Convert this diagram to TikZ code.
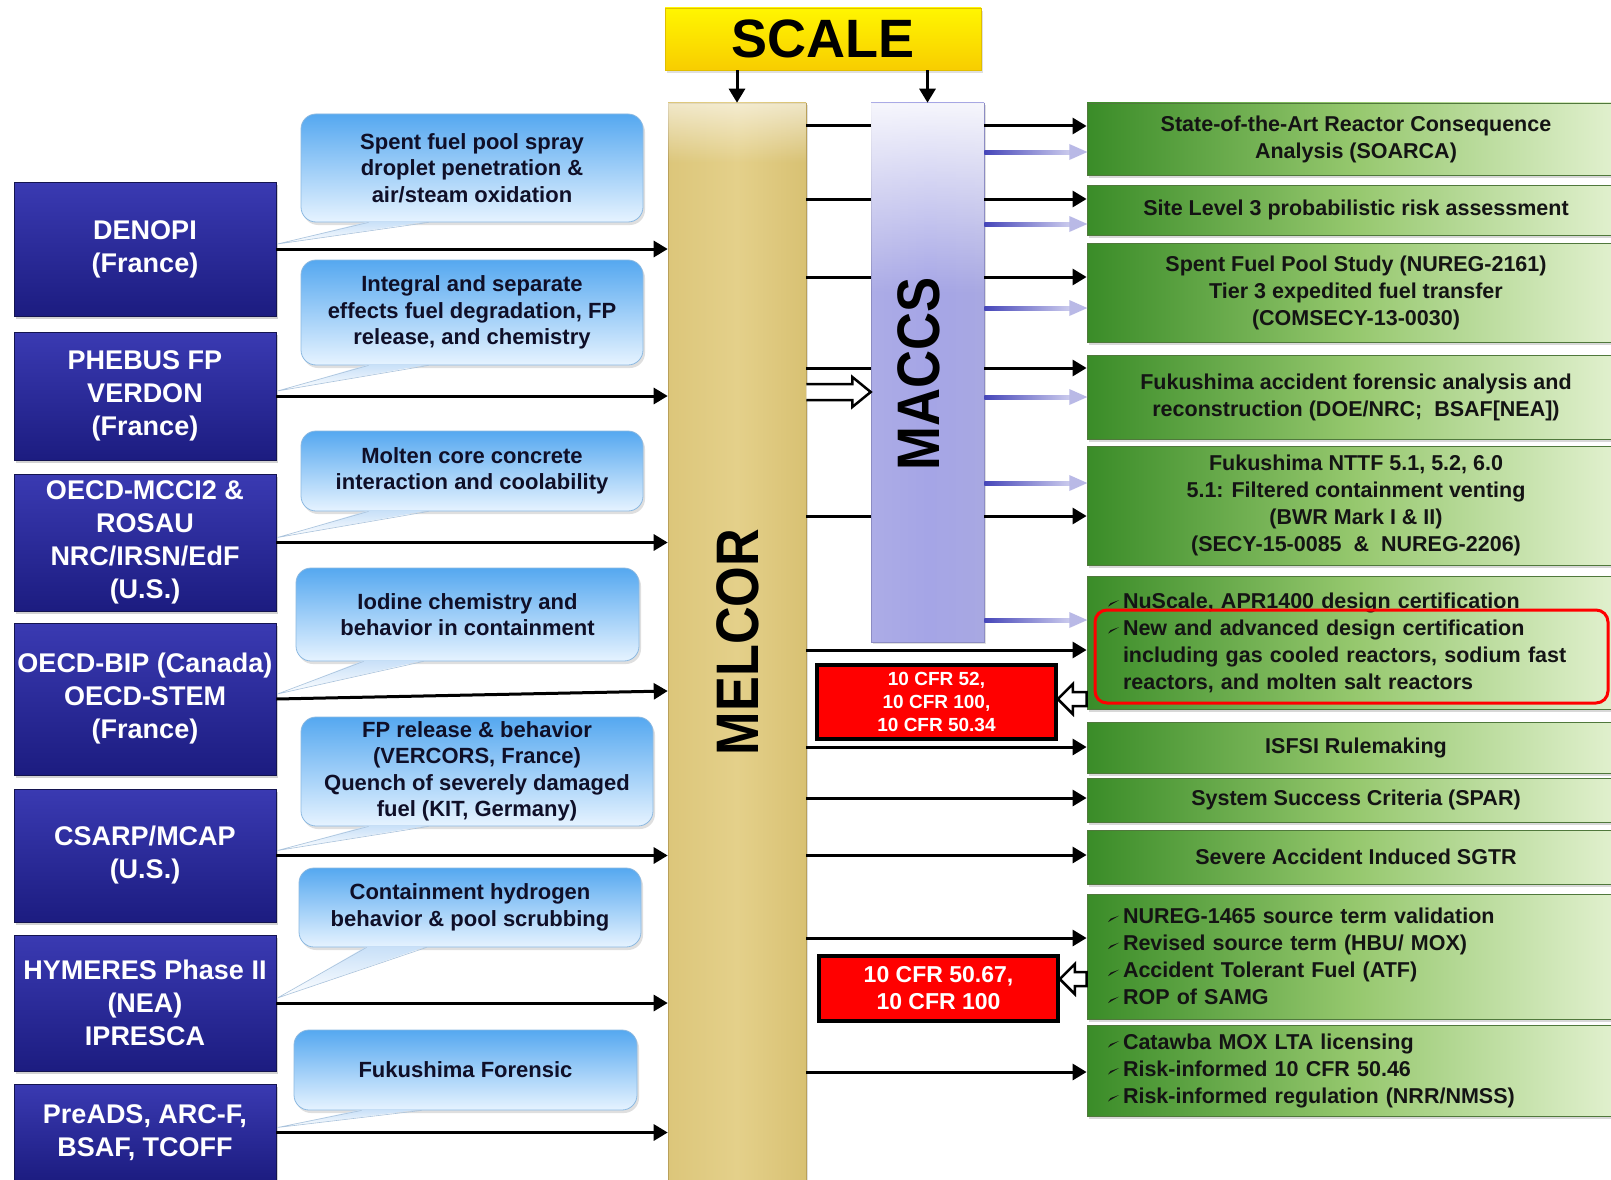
\documentclass[tikz,border=0pt]{standalone}
\usepackage{graphicx}
\usepackage{fontspec}
\setmainfont{Liberation Sans}
\usetikzlibrary{arrows.meta,shadows,calc,fadings}

\definecolor{navyT}{RGB}{58,58,178}
\definecolor{navyB}{RGB}{28,28,128}
\definecolor{navyD}{RGB}{20,20,80}
\definecolor{callT}{RGB}{85,168,240}
\definecolor{callB}{RGB}{230,243,255}
\definecolor{callD}{RGB}{140,185,225}
\definecolor{calltxt}{RGB}{15,15,40}
\definecolor{tailT}{RGB}{200,224,248}
\definecolor{tailD}{RGB}{170,195,220}
\definecolor{melL}{RGB}{220,198,122}
\definecolor{melM}{RGB}{228,208,138}
\definecolor{melR}{RGB}{216,193,115}
\definecolor{melD}{RGB}{185,160,90}
\definecolor{macL}{RGB}{172,172,230}
\definecolor{macM}{RGB}{165,165,230}
\definecolor{macR}{RGB}{168,168,226}
\definecolor{macD}{RGB}{140,140,195}
\definecolor{scT}{RGB}{255,246,0}
\definecolor{scB}{RGB}{248,205,0}
\definecolor{scD}{RGB}{225,190,0}
\definecolor{grL}{RGB}{58,140,40}
\definecolor{grM}{RGB}{150,200,110}
\definecolor{grR}{RGB}{228,242,210}
\definecolor{grD}{RGB}{80,120,60}
\definecolor{grtxt}{RGB}{20,20,20}
\definecolor{fadeA}{RGB}{70,70,185}
\definecolor{fadeB}{RGB}{205,205,238}

\newcommand\gbul{\makebox[15pt][l]{\tikz[x=1pt,y=1pt,baseline=0pt]\fill[grtxt] (0,1.5) -- (11,8) -- (2.5,5) -- cycle;}}

\begin{document}
\begin{tikzpicture}[x=1pt,y=-1pt,
  darkbox/.style={rectangle, top color=navyT, bottom color=navyB, draw=navyD, line width=0.8pt,
    text=white, align=center, minimum width=262pt, inner sep=0pt,
    font=\fontsize{27}{33}\selectfont\bfseries,
    drop shadow={shadow xshift=2pt,shadow yshift=-3pt,opacity=0.35}},
  callout/.style={rectangle, rounded corners=15pt, top color=callT, bottom color=callB, draw=callD,
    line width=0.8pt, text=calltxt, align=center, inner sep=0pt,
    font=\fontsize{22}{26.5}\selectfont\bfseries,
    drop shadow={shadow xshift=2pt,shadow yshift=-3pt,opacity=0.25}},
  greenbox/.style={rectangle, left color=grL, right color=grR, middle color=grM, draw=grD,
    line width=0.8pt, text=grtxt, align=center, minimum width=538pt, inner sep=0pt,
    font=\fontsize{21.5}{27}\selectfont\bfseries,
    drop shadow={shadow xshift=2pt,shadow yshift=-3pt,opacity=0.3}},
  greenlist/.style={greenbox, align=left, text width=496pt, inner xsep=21pt},
  redbox/.style={rectangle, fill=red, draw=black, line width=3.5pt, text=white, align=center,
    inner sep=0pt, minimum width=239pt},
  arr/.style={line width=3pt, -{Triangle[length=14pt,width=16pt]}},
  plainline/.style={line width=3pt},
  hollow/.style={line width=2.5pt, fill=white, draw=black, line join=miter},
  fadearrow/.pic={
    \shade[left color=fadeA,right color=fadeB] (0,-2) rectangle (87,2);
    \fill[fadeB!85!fadeA] (85,-8) -- (103,0) -- (85,8) -- cycle;}
]
\useasboundingbox (0,0) rectangle (1611,1180);
\fill[white] (0,0) rectangle (1611,1180);

% ---------- left dark boxes ----------
\node[darkbox, minimum height=134pt] (d1) at (145,249) {DENOPI\\(France)};
\node[darkbox, minimum height=128pt] (d2) at (145,396) {PHEBUS FP\\VERDON\\(France)};
\node[darkbox, minimum height=137pt] (d3) at (145,542.5) {OECD-MCCI2 \&\\ROSAU\\NRC/IRSN/EdF\\(U.S.)};
\node[darkbox, minimum height=152pt] (d4) at (145,699) {OECD-BIP (Canada)\\OECD-STEM\\(France)};
\node[darkbox, minimum height=133pt] (d5) at (145,855.5) {CSARP/MCAP\\(U.S.)};
\node[darkbox, minimum height=136pt] (d6) at (145,1003) {HYMERES Phase II\\(NEA)\\IPRESCA};
\node[darkbox, minimum height=97pt] (d7) at (145,1132.5) {PreADS, ARC-F,\\BSAF, TCOFF};

% ---------- callouts ----------
\node[callout, minimum width=342pt, minimum height=108pt] (c1) at (472,168) {Spent fuel pool spray\\droplet penetration \&\\air/steam oxidation};
\node[callout, minimum width=342pt, minimum height=105pt] (c2) at (472,312.5) {Integral and separate\\effects fuel degradation, FP\\release, and chemistry};
\node[callout, minimum width=342pt, minimum height=80pt] (c3) at (472,471) {Molten core concrete\\interaction and coolability};
\node[callout, minimum width=343pt, minimum height=93pt] (c4) at (467.5,614.5) {Iodine chemistry and\\behavior in containment};
\node[callout, minimum width=352pt, minimum height=109pt] (c5) at (477,771.5) {FP release \& behavior\\(VERCORS, France)\\Quench of severely damaged\\fuel (KIT, Germany)};
\node[callout, minimum width=342pt, minimum height=79pt] (c6) at (470,907.5) {Containment hydrogen\\behavior \& pool scrubbing};
\node[callout, minimum width=343pt, minimum height=80pt] (c7) at (465.5,1070) {Fukushima Forensic};

% callout tails
\foreach \c/\d in {c1/d1,c2/d2,c3/d3,c4/d4,c5/d5,c6/d6,c7/d7}{
  \shade[top color=tailT,bottom color=white] ($(\c.south west)+(68,-1)$) -- ($(\d.east)+(1,-5)$) -- ($(\c.south west)+(128,-1)$) -- cycle;
  \draw[tailD, line width=0.6pt] ($(\c.south west)+(68,0)$) -- ($(\d.east)+(1,-5)$) -- ($(\c.south west)+(128,0)$);
}

% ---------- columns ----------
\node[rectangle, left color=melL, right color=melR, middle color=melM, draw=melD, line width=0.6pt,
  minimum width=138pt, minimum height=1090pt, inner sep=0pt,
  drop shadow={shadow xshift=2pt,shadow yshift=-2pt,opacity=0.25}] (melcor) at (737,648) {};
\fill[white, path fading=south, fill opacity=0.6] (melcor.north west) rectangle ($(melcor.north east)+(0,60)$);
\node[rotate=90, font=\fontsize{60}{60}\selectfont\bfseries] (melcortxt) at (738,642) {\scalebox{0.87}[1]{MELCOR}};

\node[rectangle, left color=macL, right color=macR, middle color=macM, draw=macD, line width=0.6pt,
  minimum width=113pt, minimum height=539pt, inner sep=0pt,
  drop shadow={shadow xshift=2pt,shadow yshift=-2pt,opacity=0.25}] (maccs) at (927.5,372.5) {};
\fill[white, path fading=south, fill opacity=0.9] (maccs.north west) rectangle ($(maccs.north east)+(0,190)$);
\node[rotate=90, font=\fontsize{60}{60}\selectfont\bfseries] (maccstxt) at (919,374) {\scalebox{0.877}[1]{MACCS}};

\node[rectangle, top color=scT, bottom color=scB, draw=scD, line width=0.6pt,
  minimum width=316pt, minimum height=62pt, inner sep=0pt,
  font=\fontsize{54}{54}\selectfont\bfseries,
  drop shadow={shadow xshift=2pt,shadow yshift=-3pt,opacity=0.25}] (scale) at (823,39) {SCALE};

\draw[arr] (scale.south -| melcor.north) -- (melcor.north);
\draw[arr] (scale.south -| maccs.north) -- (maccs.north);

% ---------- green boxes ----------
\node[greenbox, minimum height=72pt] (g1) at (1356,139) {State-of-the-Art Reactor Consequence\\Analysis (SOARCA)};
\node[greenbox, minimum height=50pt] (g2) at (1356,210) {Site Level 3 probabilistic risk assessment};
\node[greenbox, minimum height=99pt] (g3) at (1356,292.5) {Spent Fuel Pool Study (NUREG-2161)\\Tier 3 expedited fuel transfer\\(COMSECY-13-0030)};
\node[greenbox, minimum height=84pt] (g4) at (1356,397) {Fukushima accident forensic analysis and\\reconstruction (DOE/NRC;\ \ BSAF[NEA])};
\node[greenbox, minimum height=119pt] (g5) at (1356,505.5) {Fukushima NTTF 5.1, 5.2, 6.0\\5.1: Filtered containment venting\\(BWR Mark I \& II)\\(SECY-15-0085\ \ \&\ \ NUREG-2206)};
\node[greenlist, minimum height=133pt] (g6) at (1356,642.5) {\gbul NuScale, APR1400 design certification\\\gbul New and advanced design certification\\\hspace*{15pt}including gas cooled reactors, sodium fast\\\hspace*{15pt}reactors, and molten salt reactors};
\node[greenbox, minimum height=51pt] (g7) at (1356,747.5) {ISFSI Rulemaking};
\node[greenbox, minimum height=44pt] (g8) at (1356,800) {System Success Criteria (SPAR)};
\node[greenbox, minimum height=54pt] (g9) at (1356,857) {Severe Accident Induced SGTR};
\node[greenlist, minimum height=125pt] (g10) at (1356,956.5) {\gbul NUREG-1465 source term validation\\\gbul Revised source term (HBU/ MOX)\\\gbul Accident Tolerant Fuel (ATF)\\\gbul ROP of SAMG};
\node[greenlist, minimum height=91pt] (g11) at (1356,1070.5) {\gbul Catawba MOX LTA licensing\\\gbul Risk-informed 10 CFR 50.46\\\gbul Risk-informed regulation (NRR/NMSS)};

% highlight
\draw[red, line width=3pt, rounded corners=12pt] (1095,610) rectangle (1608,703);

% ---------- red boxes ----------
\node[redbox, minimum height=74pt, font=\fontsize{19}{23}\selectfont\bfseries] (r1) at (936.5,702) {10 CFR 52,\\10 CFR 100,\\10 CFR 50.34};
\node[redbox, minimum height=65pt, font=\fontsize{23}{27}\selectfont\bfseries] (r2) at (938.5,988.5) {10 CFR 50.67,\\10 CFR 100};

% ---------- y levels ----------
\coordinate (yA) at (0,126); \coordinate (yB) at (0,199); \coordinate (yC) at (0,277);
\coordinate (yD) at (0,368); \coordinate (yE) at (0,516); \coordinate (yH) at (0,392);
\coordinate (pA) at (0,152); \coordinate (pB) at (0,224); \coordinate (pC) at (0,308);
\coordinate (pD) at (0,397); \coordinate (pE) at (0,483); \coordinate (pF) at (0,620);
\coordinate (mA) at (0,650); \coordinate (mB) at (0,747); \coordinate (mC) at (0,798);
\coordinate (mD) at (0,855); \coordinate (mE) at (0,938); \coordinate (mF) at (0,1072);
\coordinate (y4e) at (0,691); \coordinate (hR1) at (0,699); \coordinate (hR2) at (0,979);

% dark boxes -> MELCOR
\foreach \d in {d1,d2,d3,d5,d6,d7}{\draw[arr] (\d.east) -- (\d.east -| melcor.west);}
\draw[arr] (d4.east) -- (melcor.west |- y4e);

% MELCOR -> MACCS
\foreach \y in {yA,yB,yC,yD,yE}{\draw[plainline] (melcor.east |- \y) -- (maccs.west |- \y);}
\draw[hollow] ($(melcor.east |- yH)+(0,-8)$) -- ++(46,0) -- ++(0,-7) -- ($(maccs.west |- yH)$) -- ($(melcor.east |- yH)+(46,15)$) -- ++(0,-7) -- ++(-46,0);

% MACCS -> green
\foreach \y/\g in {yA/g1,yB/g2,yC/g3,yD/g4,yE/g5}{\draw[arr] (maccs.east |- \y) -- (\g.west |- \y);}
\foreach \y in {pA,pB,pC,pD,pE,pF}{\pic at (maccs.east |- \y) {fadearrow};}

% MELCOR -> green
\foreach \y/\g in {mA/g6,mB/g7,mC/g8,mD/g9,mE/g10,mF/g11}{\draw[arr] (melcor.east |- \y) -- (\g.west |- \y);}

% green -> red (hollow)
\draw[hollow] (r1.east |- hR1) -- ++(15,-15) -- ++(0,8) -- ($(g6.west |- hR1)+(0,-7)$) -- ($(g6.west |- hR1)+(0,7)$) -- ($(r1.east |- hR1)+(15,7)$) -- ++(0,8) -- cycle;
\draw[hollow] (r2.east |- hR2) -- ++(15,-15) -- ++(0,8) -- ($(g10.west |- hR2)+(0,-7)$) -- ($(g10.west |- hR2)+(0,7)$) -- ($(r2.east |- hR2)+(15,7)$) -- ++(0,8) -- cycle;

\end{tikzpicture}
\end{document}
